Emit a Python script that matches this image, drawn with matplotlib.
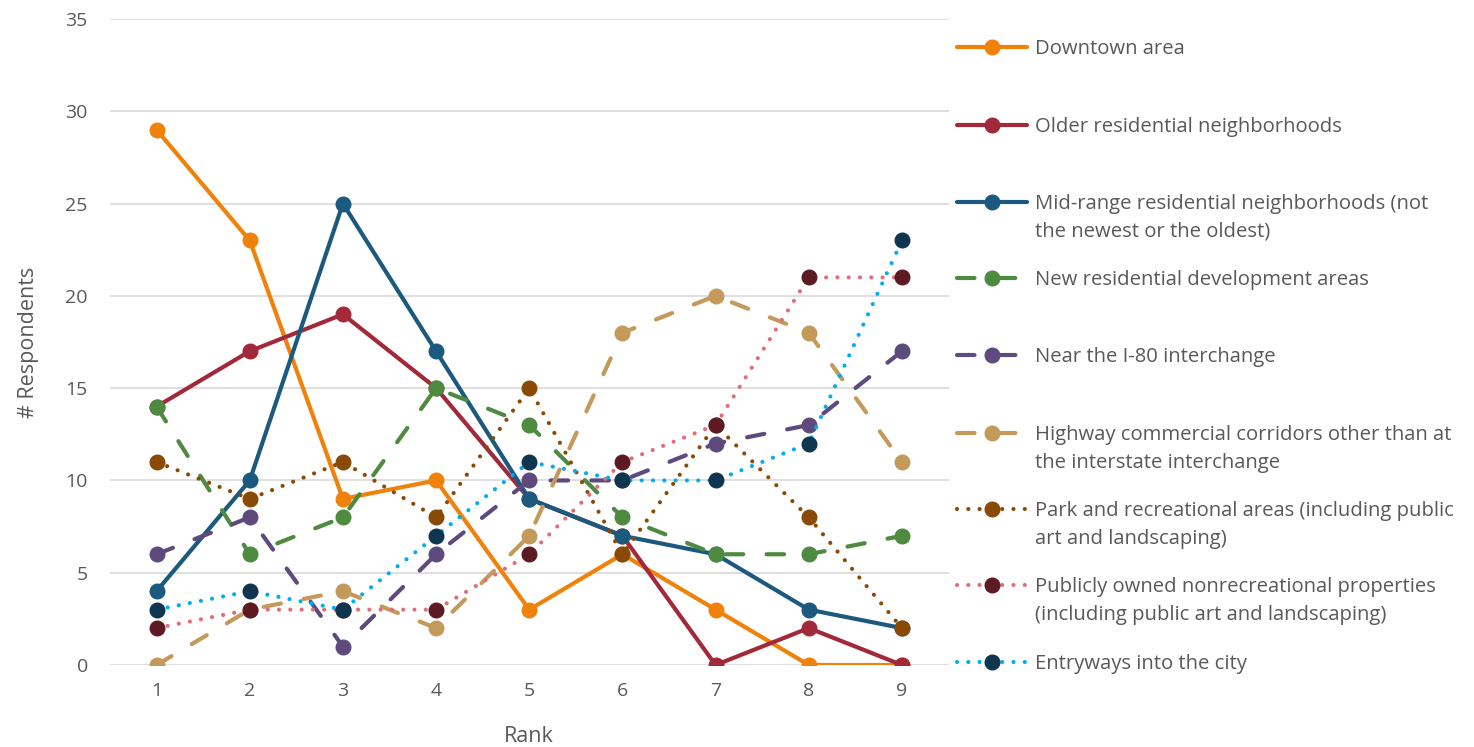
import matplotlib
matplotlib.use("Agg")
import matplotlib.pyplot as plt
from matplotlib.lines import Line2D

ranks = [1, 2, 3, 4, 5, 6, 7, 8, 9]

labels = [
    "Downtown area",
    "Older residential neighborhoods",
    "Mid-range residential neighborhoods (not\nthe newest or the oldest)",
    "New residential development areas",
    "Near the I-80 interchange",
    "Highway commercial corridors other than at\nthe interstate interchange",
    "Park and recreational areas (including public\nart and landscaping)",
    "Publicly owned nonrecreational properties\n(including public art and landscaping)",
    "Entryways into the city",
]

downtown = [29, 23, 9, 10, 3, 6, 3, 0, 0]
older_res = [14, 17, 19, 15, 9, 7, 0, 2, 0]
mid_res = [4, 10, 25, 17, 9, 7, 6, 3, 2]
new_res = [14, 6, 8, 15, 13, 8, 6, 6, 7]
near_i80 = [6, 8, 1, 6, 10, 10, 12, 13, 17]
highway = [0, 3, 4, 2, 7, 18, 20, 18, 11]
parks = [11, 9, 11, 8, 15, 6, 13, 8, 2]
public_prop = [2, 3, 3, 3, 6, 11, 13, 21, 21]
entryways = [3, 4, 3, 7, 11, 10, 10, 12, 23]

series = [downtown, older_res, mid_res, new_res, near_i80,
          highway, parks, public_prop, entryways]

# (line colour, marker colour, line style)
SOLID = "solid"
DASH = (0, (4.2, 5.6))
DOT = (0, (0.01, 2.7))
styles = [
    ("#F0820C", "#F0820C", SOLID),
    ("#A2293A", "#A2293A", SOLID),
    ("#1B5A7E", "#1B5A7E", SOLID),
    ("#4E8A3F", "#4E8A3F", DASH),
    ("#5E4A7C", "#5E4A7C", DASH),
    ("#C49A5B", "#C49A5B", DASH),
    ("#8A4A06", "#8A4A06", DOT),
    ("#E06C7C", "#5E1A22", DOT),
    ("#00AEEF", "#0F3550", DOT),
]

FONT = "Open Sans"
TEXT_COLOR = "#595959"
plt.rcParams["font.family"] = [FONT, "DejaVu Sans"]

W, H = 1474, 747
fig = plt.figure(figsize=(W / 100, H / 100), dpi=100)
ax = fig.add_axes([110 / W, 1 - 665 / H, (948.5 - 110) / W, (665 - 19) / H])

LW = 3.0
MS = 10.5
for vals, (lc, mc, ls) in zip(series, styles):
    ax.plot(ranks, vals, color=lc, lw=LW, linestyle=ls,
            marker="o", ms=MS, mfc=mc, mec=mc,
            solid_capstyle="round", dash_capstyle="round",
            solid_joinstyle="round")

ax.set_xlim(0.5, 9.5)
ax.set_ylim(0, 35)
ax.set_yticks(range(0, 36, 5))
ax.set_xticks(ranks)
ax.grid(axis="y", color="#D9D9D9", lw=1.2)
ax.set_axisbelow(True)
for s in ax.spines.values():
    s.set_visible(False)
ax.tick_params(length=0, labelsize=14, colors=TEXT_COLOR)
ax.tick_params(axis="y", pad=16)
ax.tick_params(axis="x", pad=12)
ax.set_xlabel("Rank", fontsize=15.5, color=TEXT_COLOR, labelpad=19)
ax.set_ylabel("# Respondents", fontsize=15.5, color=TEXT_COLOR, labelpad=19)

# Legend drawn beside the plot, one row per series
row_y = [47, 125, 202, 278, 355, 433, 509, 585, 662]
LEG_FS = 14.6
LINE_GAP = 28
x0, x1, xm = 957, 1027, 992
for (lc, mc, ls), lab, y in zip(styles, labels, row_y):
    yf = 1 - y / H
    ln = Line2D([x0 / W, x1 / W], [yf, yf], transform=fig.transFigure,
                color=lc, lw=LW, linestyle=ls,
                solid_capstyle="round", dash_capstyle="round")
    fig.add_artist(ln)
    mk = Line2D([xm / W], [yf], transform=fig.transFigure,
                marker="o", ms=MS, mfc=mc, mec=mc, linestyle="none")
    fig.add_artist(mk)
    for i, part in enumerate(lab.split("\n")):
        base = y + 7 + i * LINE_GAP
        fig.text(1035 / W, 1 - base / H, part, ha="left", va="baseline",
                 fontsize=LEG_FS, color=TEXT_COLOR)

fig.savefig("out.png", dpi=100)
